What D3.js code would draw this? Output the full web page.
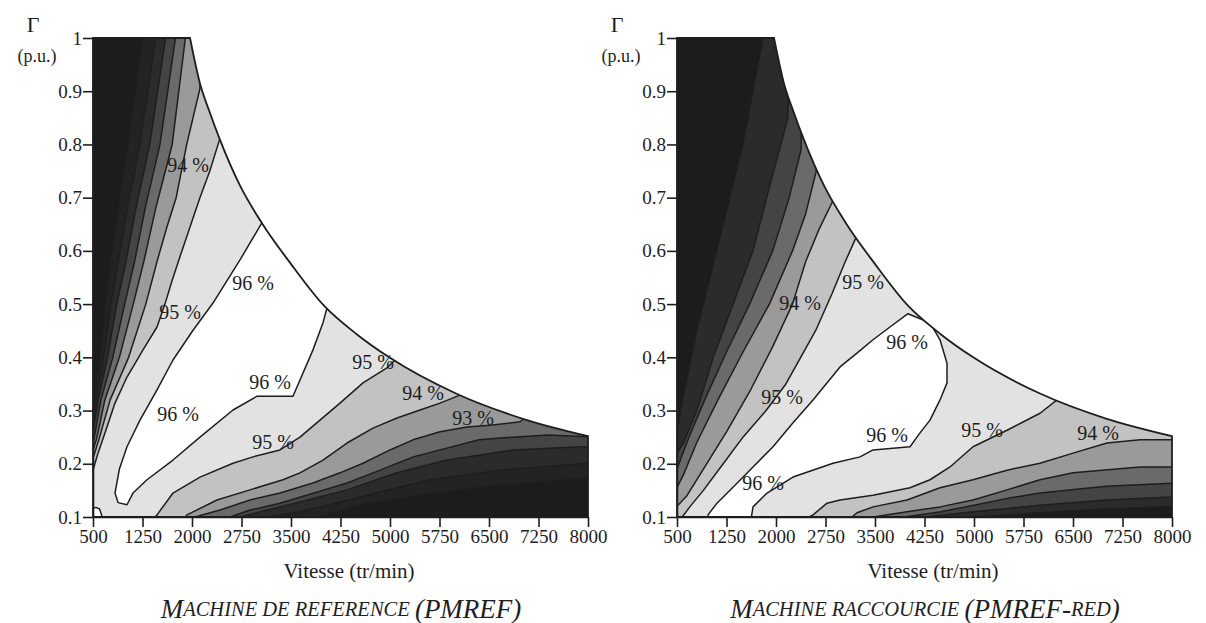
<!DOCTYPE html>
<html><head><meta charset="utf-8">
<script src="https://cdn.jsdelivr.net/npm/d3@7"></script>
<style>
body{margin:0;background:#fff}
svg text{font-family:"Liberation Serif","Times New Roman",serif}
</style></head><body>
<svg id="chart" width="1206" height="623"></svg>
<script>
// ---------- data ----------
const speedTicks  = [500,1250,2000,2750,3500,4250,5000,5750,6500,7250,8000];
const torqueTicks = [0.1,0.2,0.3,0.4,0.5,0.6,0.7,0.8,0.9,1];
const envelopeSpeed  = [1970,2120,2270,2420,2730,3060,3490,4000,4500,5000,6000,7000,8000];
const envelopeTorque = [1.0,0.915,0.86,0.81,0.722,0.652,0.577,0.497,0.443,0.399,0.332,0.285,0.252];
const levels = [89,90,91,92,93,94,95];

// PMREF: iso-efficiency lines, low-speed side (speed, torque)
const refUpper = {
  89:[[1250,1.2],[1250,1.0],[1030,0.8],[880,0.68],[760,0.58],[690,0.5],[600,0.4],[520,0.32],[500,0.295]],
  90:[[1450,1.2],[1450,1.0],[1210,0.8],[1020,0.68],[880,0.58],[770,0.5],[660,0.4],[550,0.32],[500,0.275]],
  91:[[1600,1.2],[1600,1.0],[1360,0.8],[1150,0.68],[1000,0.58],[860,0.5],[720,0.4],[580,0.32],[500,0.26]],
  92:[[1750,1.2],[1750,1.0],[1515,0.8],[1290,0.68],[1130,0.58],[980,0.5],[800,0.4],[620,0.32],[520,0.25],[500,0.24]],
  93:[[1900,1.2],[1900,1.0],[1700,0.8],[1450,0.68],[1270,0.58],[1110,0.5],[900,0.4],[680,0.32],[560,0.25],[500,0.225]],
  94:[[2200,1.2],[2120,0.905],[1920,0.8],[1760,0.7],[1620,0.645],[1470,0.58],[1300,0.5],[1040,0.4],[760,0.32],[600,0.25],[500,0.21]],
  95:[[2500,1.2],[2420,0.81],[2270,0.75],[2120,0.70],[1970,0.645],[1820,0.59],[1700,0.545],[1590,0.50],[1470,0.457],[1258,0.414],[1015,0.363],[833,0.314],[712,0.269],[576,0.22],[500,0.188]]
};
// PMREF: iso-efficiency lines, high-speed side
const refLower = {
  89:[[8100,0.173],[8000,0.173],[6667,0.16],[5455,0.141],[4545,0.123],[3939,0.1]],
  90:[[8100,0.201],[8000,0.201],[6667,0.188],[5606,0.17],[4848,0.147],[4091,0.123],[3636,0.11],[3182,0.1]],
  91:[[8100,0.232],[7879,0.232],[6864,0.226],[5864,0.207],[5106,0.183],[4348,0.151],[3333,0.119],[2727,0.1]],
  92:[[8100,0.25],[7400,0.254],[6850,0.25],[6350,0.245],[5350,0.213],[4850,0.188],[4350,0.164],[3850,0.145],[3330,0.126],[2880,0.113],[2580,0.1]],
  93:[[7200,0.30],[6970,0.279],[6560,0.273],[6167,0.269],[5758,0.26],[5348,0.245],[5000,0.226],[4591,0.201],[4242,0.183],[3833,0.164],[3333,0.145],[2879,0.132],[2424,0.113],[2045,0.1]],
  94:[[6200,0.36],[6060,0.329],[5758,0.314],[5455,0.301],[5106,0.286],[4742,0.267],[4348,0.239],[3985,0.207],[3636,0.183],[3379,0.17],[2879,0.151],[2379,0.132],[1924,0.104],[1900,0.1]],
  95:[[5200,0.45],[5076,0.395],[4954,0.38],[4591,0.352],[4242,0.314],[3939,0.282],[3636,0.25],[3333,0.226],[2924,0.213],[2621,0.201],[2121,0.175],[1712,0.145],[1470,0.104],[1440,0.1]]
};
// PMREF: 96 % zones
const refPeak = [[3100,0.8],[3060,0.653],[2727,0.583],[2318,0.502],[2000,0.448],[1712,0.395],[1470,0.339],[1212,0.282],[1015,0.232],[900,0.19],[833,0.145],[880,0.127],[1015,0.123],[1106,0.145],[1318,0.17],[1712,0.207],[2121,0.25],[2621,0.301],[2985,0.327],[3530,0.327],[3833,0.414],[3985,0.465],[4060,0.50],[4300,0.7]];
const refIsland = [[450,0.1],[450,0.113],[540,0.118],[600,0.115],[640,0.1],[640,0.05],[450,0.05]];
const refLabels = [[1940,0.761,"94 %"],[2924,0.54,"96 %"],[1818,0.485,"95 %"],[3182,0.354,"96 %"],[1788,0.293,"96 %"],[3227,0.241,"95 %"],[4742,0.391,"95 %"],[5500,0.333,"94 %"],[6257,0.286,"93 %"]];

// PMREF-RED
const redUpper = {
  90:[[1800,1.2],[1800,1.0],[1500,0.8],[1100,0.6],[800,0.45],[600,0.33],[500,0.26]],
  91:[[2250,1.2],[2180,0.85],[1900,0.72],[1650,0.6],[1350,0.5],[1050,0.4],[800,0.3],[600,0.24],[500,0.22]],
  92:[[2450,1.2],[2380,0.79],[2200,0.70],[1950,0.6],[1600,0.5],[1250,0.41],[920,0.32],[680,0.25],[500,0.19]],
  93:[[2700,1.2],[2610,0.75],[2450,0.67],[2250,0.6],[1900,0.5],[1500,0.41],[1120,0.32],[800,0.24],[600,0.18],[500,0.155]],
  94:[[2950,1.2],[2870,0.696],[2650,0.64],[2450,0.58],[2250,0.5],[1950,0.42],[1620,0.34],[1250,0.26],[900,0.19],[650,0.14],[500,0.12]],
  95:[[3300,1.2],[3230,0.63],[3050,0.58],[2850,0.52],[2600,0.45],[2410,0.408],[2150,0.35],[1850,0.3],[1500,0.25],[1200,0.2],[900,0.15],[700,0.12],[580,0.1]]
};
const redLower = {
  90:[[8100,0.12],[7000,0.115],[6000,0.108],[5000,0.1]],
  91:[[8100,0.138],[7000,0.132],[6000,0.122],[5000,0.11],[4250,0.1]],
  92:[[8100,0.164],[7000,0.158],[6000,0.145],[5500,0.135],[5000,0.122],[4500,0.11],[3950,0.1]],
  93:[[8100,0.194],[7515,0.194],[6500,0.183],[6000,0.17],[5500,0.151],[4985,0.132],[4485,0.119],[3985,0.11],[3470,0.1]],
  94:[[8100,0.245],[7515,0.245],[7015,0.239],[6500,0.22],[6000,0.201],[5500,0.188],[4985,0.17],[4485,0.155],[3985,0.132],[3470,0.119],[3227,0.108],[3150,0.1]],
  95:[[6400,0.4],[6258,0.32],[6000,0.295],[5500,0.263],[4985,0.232],[4636,0.194],[4333,0.17],[4030,0.155],[3470,0.141],[2970,0.132],[2773,0.126],[2561,0.104],[2500,0.1]]
};
const redPeak = [[4000,0.482],[3727,0.457],[3470,0.433],[3227,0.408],[2970,0.382],[2561,0.32],[2258,0.277],[1955,0.232],[1652,0.194],[1348,0.156],[1106,0.126],[970,0.104],[960,0.05],[1560,0.05],[1652,0.119],[1864,0.145],[2258,0.175],[2864,0.201],[3273,0.213],[3470,0.226],[4030,0.232],[4182,0.258],[4333,0.282],[4485,0.32],[4591,0.352],[4591,0.389],[4485,0.433],[4333,0.465]];
const redLabels = [[3318,0.542,"95 %"],[2364,0.502,"94 %"],[3985,0.429,"96 %"],[2091,0.325,"95 %"],[3682,0.254,"96 %"],[5121,0.263,"95 %"],[6879,0.258,"94 %"],[1803,0.164,"96 %"]];

// ---------- styles ----------
const baseColor = "#1c1c1c";
const bandColor = {89:"#232323",90:"#2b2b2b",91:"#444444",92:"#6a6a6a",93:"#9a9a9a",94:"#c2c2c2",95:"#e2e2e2",96:"#ffffff"};
const ink = "#1e1e1e";

const svg = d3.select("#chart");
svg.append("rect").attr("width",1206).attr("height",623).attr("fill","#fff");

function regionPolygon(up, low){
  const a = up[up.length-1], b = low[low.length-1];
  const pts = up.slice();
  if (a[0] <= 500) pts.push([300,a[1]],[300,0]); else pts.push([a[0],0]);
  pts.push([b[0],0]);
  for (let i=low.length-1;i>=0;i--) pts.push(low[i]);
  pts.push([9500,1.6]);
  return pts;
}

function drawPanel(cfg){
  const x = d3.scaleLinear().domain([500,8000]).range([cfg.x0, cfg.x0+495]);
  const y = d3.scaleLinear().domain([0.1,1.0]).range([517,38]);
  const g = svg.append("g");
  const lin = d3.line().x(d=>x(d[0])).y(d=>y(d[1]));
  const smooth = d3.line().x(d=>x(d[0])).y(d=>y(d[1])).curve(d3.curveMonotoneX);
  const env = envelopeSpeed.map((s,i)=>[s,envelopeTorque[i]]);
  const domainD = "M"+x(500)+","+y(0.1)+"L"+x(500)+","+y(1) + smooth(env).replace(/^M/,"L") + "L"+x(8000)+","+y(0.1)+"Z";

  g.append("clipPath").attr("id",cfg.id+"clip").append("path").attr("d",domainD);
  const c = g.append("g").attr("clip-path","url(#"+cfg.id+"clip)");
  c.append("path").attr("d",domainD).attr("fill",baseColor);
  levels.forEach(L=>{
    if(!cfg.upper[L]||!cfg.lower[L]) return;
    c.append("path").attr("d",lin(regionPolygon(cfg.upper[L],cfg.lower[L]))+"Z")
      .attr("fill",bandColor[L]).attr("stroke",ink).attr("stroke-width",1.5).attr("stroke-linejoin","round");
  });
  cfg.peaks.forEach(p=>{
    c.append("path").attr("d",lin(p)+"Z").attr("fill",bandColor[96])
      .attr("stroke",ink).attr("stroke-width",1.5).attr("stroke-linejoin","round");
  });
  g.append("path").attr("d",domainD).attr("fill","none").attr("stroke",ink).attr("stroke-width",1.8);

  // axes
  const ya = g.append("g").attr("transform","translate("+cfg.x0+",0)")
    .call(d3.axisLeft(y).tickValues(torqueTicks).tickSize(10).tickSizeOuter(0).tickPadding(1)
      .tickFormat(d=>d===1?"1":d3.format(".1f")(d)));
  const xa = g.append("g").attr("transform","translate(0,517)")
    .call(d3.axisBottom(x).tickValues(speedTicks).tickSize(10).tickSizeOuter(0).tickPadding(3)
      .tickFormat(d3.format("d")));
  [ya,xa].forEach(a=>{
    a.attr("color",ink).attr("font-family",null).attr("font-size",null);
    a.selectAll("line,path").attr("stroke-width",1.6);
    a.selectAll("text").attr("font-size",19).attr("fill",ink);
  });

  // contour labels
  g.selectAll(".lbl").data(cfg.labels).enter().append("text")
    .attr("x",d=>x(d[0])).attr("y",d=>y(d[1]))
    .attr("text-anchor","middle").attr("dominant-baseline","central")
    .attr("font-size",20).attr("fill",ink).text(d=>d[2]);

  // axis titles
  g.append("text").attr("x",cfg.x0-60).attr("y",24).attr("text-anchor","middle")
    .attr("dominant-baseline","central").attr("font-size",22).attr("fill",ink).text("Γ");
  g.append("text").attr("x",cfg.x0-56).attr("y",56).attr("text-anchor","middle")
    .attr("dominant-baseline","central").attr("font-size",18).attr("fill",ink).text("(p.u.)");
  g.append("text").attr("x",cfg.x0+256).attr("y",571).attr("text-anchor","middle")
    .attr("dominant-baseline","central").attr("font-size",21).attr("fill",ink).text("Vitesse (tr/min)");
  const t = g.append("text").attr("x",cfg.x0+248).attr("y",609).attr("text-anchor","middle")
    .attr("dominant-baseline","central").attr("font-style","italic").attr("fill",ink);
  cfg.title.forEach(p=>t.append("tspan").attr("font-size",p[1]?27:20.5).text(p[0]));
}

drawPanel({id:"ref",x0:93,upper:refUpper,lower:refLower,peaks:[refPeak,refIsland],labels:refLabels,
  title:[["M",1],["ACHINE DE REFERENCE ",0],["(PMREF)",1]]});
drawPanel({id:"red",x0:677,upper:redUpper,lower:redLower,peaks:[redPeak],labels:redLabels,
  title:[["M",1],["ACHINE RACCOURCIE ",0],["(PMREF-",1],["RED",0],[")",1]]});
</script>
</body></html>
